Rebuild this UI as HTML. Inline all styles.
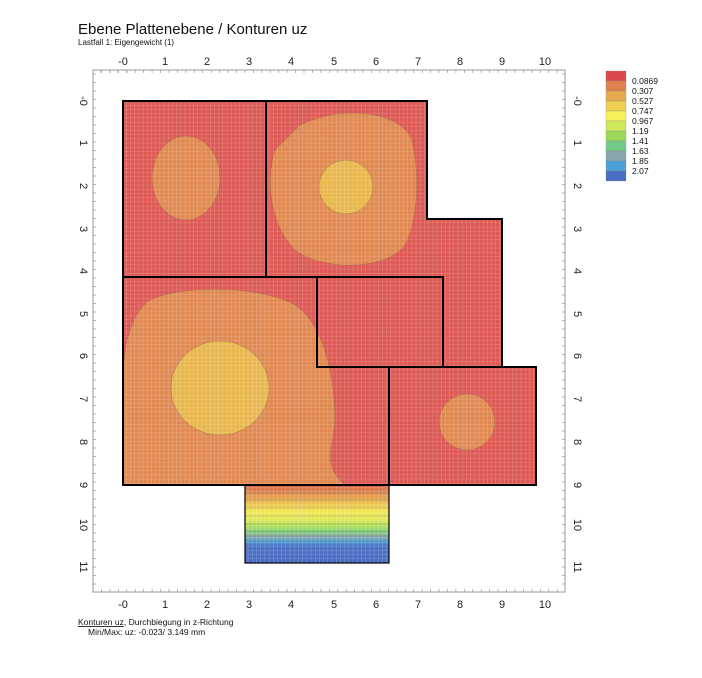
<!DOCTYPE html>
<html><head><style>
body{margin:0;background:#fff;width:702px;height:673px;overflow:hidden;font-family:"Liberation Sans",sans-serif;}
</style></head><body>
<svg width="702" height="673" xmlns="http://www.w3.org/2000/svg" font-family="Liberation Sans, sans-serif">
<defs>
<pattern id="g" width="4.2" height="4.2" patternUnits="userSpaceOnUse">
<path d="M0 0H4.2M0 0V4.2" stroke="#fff" stroke-opacity="0.35" stroke-width="0.8"/>
</pattern>
<linearGradient id="bg" x1="0" y1="0" x2="0" y2="1">
<stop offset="0" stop-color="#d9634a"/>
<stop offset="0.1" stop-color="#e08a4c"/>
<stop offset="0.2" stop-color="#e9b14e"/>
<stop offset="0.32" stop-color="#f3e353"/>
<stop offset="0.42" stop-color="#e6ec56"/>
<stop offset="0.52" stop-color="#b7e05a"/>
<stop offset="0.6" stop-color="#7fd07a"/>
<stop offset="0.66" stop-color="#8fa8a8"/>
<stop offset="0.72" stop-color="#4fa2d6"/>
<stop offset="0.78" stop-color="#4a72c4"/>
<stop offset="1" stop-color="#4a6cc2"/>
</linearGradient>
</defs>
<text x="78" y="34" font-size="15" fill="#111">Ebene Plattenebene  / Konturen uz</text>
<text x="78" y="45" font-size="8" fill="#111">Lastfall 1: Eigengewicht (1)</text>
<rect x="93" y="70" width="472" height="522" fill="none" stroke="#999" stroke-width="1"/>
<!-- ticks top/bottom -->
<g stroke="#999" stroke-width="0.8">
<path id="tk" d="M101 70v3M110 70v3M118 70v3M127 70v3"/>
</g>
<g font-size="11" fill="#222" text-anchor="middle">
<text x="123" y="65">-0</text><text x="165" y="65">1</text><text x="207" y="65">2</text><text x="249" y="65">3</text><text x="291" y="65">4</text><text x="334" y="65">5</text><text x="376" y="65">6</text><text x="418" y="65">7</text><text x="460" y="65">8</text><text x="502" y="65">9</text><text x="545" y="65">10</text>
<text x="123" y="608">-0</text><text x="165" y="608">1</text><text x="207" y="608">2</text><text x="249" y="608">3</text><text x="291" y="608">4</text><text x="334" y="608">5</text><text x="376" y="608">6</text><text x="418" y="608">7</text><text x="460" y="608">8</text><text x="502" y="608">9</text><text x="545" y="608">10</text>
</g>
<g font-size="11" fill="#222" text-anchor="middle">
<text transform="translate(80,101) rotate(90)">-0</text><text transform="translate(80,143) rotate(90)">1</text><text transform="translate(80,186) rotate(90)">2</text><text transform="translate(80,229) rotate(90)">3</text><text transform="translate(80,271) rotate(90)">4</text><text transform="translate(80,314) rotate(90)">5</text><text transform="translate(80,356) rotate(90)">6</text><text transform="translate(80,399) rotate(90)">7</text><text transform="translate(80,442) rotate(90)">8</text><text transform="translate(80,485) rotate(90)">9</text><text transform="translate(80,525) rotate(90)">10</text><text transform="translate(80,567) rotate(90)">11</text>
<text transform="translate(574,101) rotate(90)">-0</text><text transform="translate(574,143) rotate(90)">1</text><text transform="translate(574,186) rotate(90)">2</text><text transform="translate(574,229) rotate(90)">3</text><text transform="translate(574,271) rotate(90)">4</text><text transform="translate(574,314) rotate(90)">5</text><text transform="translate(574,356) rotate(90)">6</text><text transform="translate(574,399) rotate(90)">7</text><text transform="translate(574,442) rotate(90)">8</text><text transform="translate(574,485) rotate(90)">9</text><text transform="translate(574,525) rotate(90)">10</text><text transform="translate(574,567) rotate(90)">11</text>
</g>
<g stroke="#999" stroke-width="0.7" id="ticks"></g>
<!-- main red -->
<path d="M123 101H427V219H502V367H536V485H123Z" fill="#de5a55"/>
<!-- orange blobs -->
<g fill="#e08a52" stroke="#a06040" stroke-width="0.5">
<ellipse cx="186" cy="178" rx="34" ry="42"/>
<path d="M300 125C340 105 400 110 412 140C420 175 418 220 405 245C385 272 320 270 295 250C270 225 265 180 275 150Z"/>
<path d="M150 300C180 285 260 285 295 305C325 325 335 380 335 420C333 450 322 465 345 485H123V370C125 335 135 310 150 300Z"/>
<circle cx="467" cy="422" r="28"/>
</g>
<g fill="#e8b84f" stroke="#a07040" stroke-width="0.5">
<circle cx="346" cy="187" r="27"/>
<ellipse cx="220" cy="388" rx="49" ry="47"/>
</g>
<rect x="245" y="485" width="144" height="78" fill="url(#bg)"/>
<g stroke="#555" stroke-width="0.5" fill="none" opacity="0.6">
<path d="M245 493H389M245 500H389M245 508H389M245 516H389M245 524H389M245 531H389M245 536H389M245 541H389"/>
</g>
<path d="M123 101H427V219H502V367H536V485H123Z" fill="url(#g)"/>
<rect x="245" y="485" width="144" height="78" fill="url(#g)"/>
<g stroke="#000" stroke-width="2" fill="none">
<path d="M123 101H427V219H502V367H536V485H123Z"/>
<path d="M266 101V277M123 277H443V367H317V277M389 367V485M389 367H536"/>
</g>
<rect x="245" y="485" width="144" height="78" fill="none" stroke="#000" stroke-width="1.2"/>
<!-- legend -->
<g stroke="#888" stroke-width="0.3">
<rect x="606" y="71" width="20" height="10" fill="#db4a4a"/>
<rect x="606" y="81" width="20" height="10" fill="#e0804e"/>
<rect x="606" y="91" width="20" height="10" fill="#e8aa4e"/>
<rect x="606" y="101" width="20" height="10" fill="#efd050"/>
<rect x="606" y="111" width="20" height="10" fill="#f6f25a"/>
<rect x="606" y="121" width="20" height="10" fill="#cfe85a"/>
<rect x="606" y="131" width="20" height="10" fill="#9ad85a"/>
<rect x="606" y="141" width="20" height="10" fill="#72cc88"/>
<rect x="606" y="151" width="20" height="10" fill="#8aa4ac"/>
<rect x="606" y="161" width="20" height="10" fill="#4aa0d8"/>
<rect x="606" y="171" width="20" height="10" fill="#4a6cc4"/>
</g>
<g font-size="8.5" fill="#111">
<text x="632" y="84">0.0869</text><text x="632" y="94">0.307</text><text x="632" y="104">0.527</text><text x="632" y="114">0.747</text><text x="632" y="124">0.967</text><text x="632" y="134">1.19</text><text x="632" y="144">1.41</text><text x="632" y="154">1.63</text><text x="632" y="164">1.85</text><text x="632" y="174">2.07</text>
</g>
<text x="78" y="625" font-size="8.5" fill="#111"><tspan text-decoration="underline">Konturen uz</tspan>, Durchbiegung in z-Richtung</text>
<text x="88" y="635" font-size="8.5" fill="#111">Min/Max:   uz:  -0.023/  3.149 mm</text>
<script>
var g=document.getElementById('ticks'),s='';
for(var x=93;x<=565;x+=8.44){s+='M'+x+' 70v3M'+x+' 592v-3';}
for(var y=74;y<=592;y+=8.5){s+='M93 '+y+'h3M565 '+y+'h-3';}
var p=document.createElementNS('http://www.w3.org/2000/svg','path');p.setAttribute('d',s);g.appendChild(p);
</script>
</svg>
</body></html>
